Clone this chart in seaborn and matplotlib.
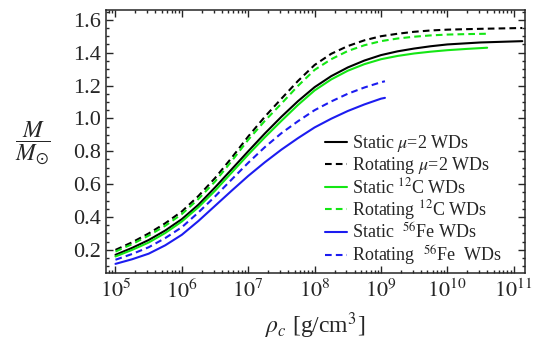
import numpy as np
import pandas as pd
import matplotlib
matplotlib.use("Agg")
import matplotlib.pyplot as plt
import matplotlib.ticker as mticker
import seaborn as sns

# DATA (x = log10 of central density)

log_rho_mu2 = [5.0, 5.25, 5.5, 5.75, 6.0, 6.25, 6.5, 6.75, 7.0, 7.25, 7.5, 7.75,
               8.0, 8.25, 8.5, 8.75, 9.0, 9.25, 9.5, 9.75, 10.0, 10.5, 11.13]
static_mu2 = [0.17, 0.212, 0.26, 0.318, 0.387, 0.475, 0.58, 0.69, 0.80, 0.908, 1.01, 1.105,
              1.19, 1.257, 1.31, 1.352, 1.385, 1.408, 1.425, 1.439, 1.45, 1.462, 1.47]
rot_mu2 = [0.20, 0.246, 0.30, 0.362, 0.434, 0.528, 0.637, 0.76, 0.89, 1.01, 1.12, 1.228,
           1.325, 1.393, 1.44, 1.475, 1.50, 1.515, 1.527, 1.535, 1.54, 1.545, 1.55]

log_rho_c12 = [5.0, 5.25, 5.5, 5.75, 6.0, 6.25, 6.5, 6.75, 7.0, 7.25, 7.5, 7.75,
               8.0, 8.25, 8.5, 8.75, 9.0, 9.25, 9.5, 9.75, 10.0, 10.3, 10.6]
static_c12 = [0.16, 0.20, 0.245, 0.303, 0.373, 0.46, 0.56, 0.67, 0.78, 0.885, 0.985, 1.082,
              1.17, 1.237, 1.29, 1.33, 1.36, 1.38, 1.395, 1.406, 1.415, 1.423, 1.43]
rot_c12 = [0.19, 0.235, 0.287, 0.347, 0.418, 0.51, 0.616, 0.74, 0.87, 0.985, 1.09, 1.198,
           1.295, 1.36, 1.41, 1.445, 1.47, 1.486, 1.497, 1.505, 1.51, 1.513, 1.515]

log_rho_fe56 = [5.0, 5.25, 5.5, 5.75, 6.0, 6.25, 6.5, 6.75, 7.0, 7.25, 7.5, 7.75,
                8.0, 8.25, 8.5, 8.75, 9.0, 9.06]
static_fe56 = [0.115, 0.143, 0.177, 0.228, 0.292, 0.376, 0.468, 0.56, 0.65, 0.733, 0.81, 0.88,
               0.945, 0.998, 1.045, 1.085, 1.12, 1.125]
rot_fe56 = [0.14, 0.175, 0.216, 0.272, 0.338, 0.428, 0.525, 0.628, 0.73, 0.825, 0.91, 0.983,
            1.05, 1.103, 1.15, 1.188, 1.22, 1.226]

labels = [
    r"Static $\mu$=2 WDs",
    r"Rotating $\mu$=2 WDs",
    r"Static $^{12}$C WDs",
    r"Rotating $^{12}$C WDs",
    r"Static  $^{56}$Fe WDs",
    r"Rotating  $^{56}$Fe  WDs",
]

x_ticks = [5, 6, 7, 8, 9, 10, 11]
y_ticks = [0.2, 0.4, 0.6, 0.8, 1.0, 1.2, 1.4, 1.6]


# STYLE

sns.set_style("ticks")
plt.rcParams["font.family"] = ["Liberation Serif", "DejaVu Serif"]
plt.rcParams["mathtext.fontset"] = "stix"

black = "#000000"
green = "#14e614"
blue = "#1c1cf0"
dash = (0, (3.2, 2.0))

series = [
    (log_rho_mu2, static_mu2, black, "-"),
    (log_rho_mu2, rot_mu2, black, dash),
    (log_rho_c12, static_c12, green, "-"),
    (log_rho_c12, rot_c12, green, dash),
    (log_rho_fe56, static_fe56, blue, "-"),
    (log_rho_fe56, rot_fe56, blue, dash),
]


# PLOT

fig = plt.figure(figsize=(5.39, 3.42), dpi=100)
ax = fig.add_axes([0.197, 0.202, 0.777, 0.769])

for (lx, ly, col, ls), lab in zip(series, labels):
    df = pd.DataFrame({"rho": 10.0 ** np.array(lx), "M": ly})
    sns.lineplot(
        data=df, x="rho", y="M", ax=ax,
        color=col, linestyle=ls, linewidth=1.5,
        label=lab, estimator=None, sort=False,
    )

ax.set_xscale("log")
ax.set_xlim(10 ** 4.86, 10 ** 11.17)
ax.set_ylim(0.06, 1.66)

ax.set_xticks([10.0 ** k for k in x_ticks])
ax.set_xticklabels([r"$10^{%d}$" % k for k in x_ticks])
ax.xaxis.set_minor_locator(mticker.LogLocator(base=10, subs=np.arange(2, 10), numticks=20))
ax.xaxis.set_minor_formatter(mticker.NullFormatter())

ax.set_yticks(y_ticks)
ax.set_yticklabels(["%.1f" % v for v in y_ticks])
ax.yaxis.set_minor_locator(mticker.MultipleLocator(0.05))

ax.tick_params(which="both", direction="in", top=True, right=True, width=1.0, labelsize=16)
ax.tick_params(which="major", length=5)
ax.tick_params(which="minor", length=2.5)
ax.tick_params(axis="x", pad=5)
ax.tick_params(axis="y", pad=4)
for sp in ax.spines.values():
    sp.set_linewidth(1.1)
    sp.set_visible(True)

ax.set_xlabel(r"$\rho_c$ [g/cm$^3$]", fontsize=17, labelpad=5)
ax.set_ylabel(r"$\dfrac{M}{M_{\odot}}$", fontsize=17, rotation=0, va="center")
ax.yaxis.set_label_coords(-0.174, 0.494)

leg = ax.legend(
    loc="lower left", bbox_to_anchor=(0.522, 0.02),
    frameon=False, fontsize=13, handlelength=1.25,
    handletextpad=0.25, labelspacing=0.05, borderaxespad=0.0, borderpad=0.0,
)

fig.savefig("out.png", dpi=100)
